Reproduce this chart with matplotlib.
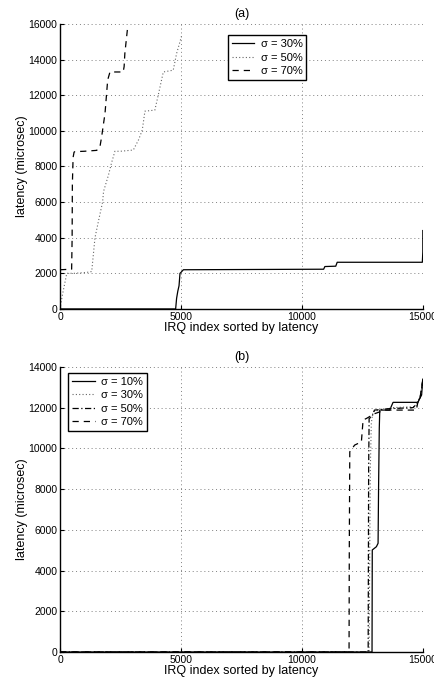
import matplotlib
matplotlib.use('Agg')
from matplotlib import pyplot as plt

plt.rcParams['font.family'] = ['Liberation Sans', 'DejaVu Sans']

# (a) latency vs sorted IRQ index
a30_x = [0, 4780, 4820, 4870, 4920, 4960, 5000, 5100, 10900, 10950, 11400, 11460, 14980, 15000, 15000]
a30_y = [0, 0, 600, 1000, 1300, 2000, 2050, 2200, 2230, 2380, 2400, 2620, 2620, 3200, 4400]

a50_x = [0, 100, 280, 600, 1100, 1310, 1445, 1600, 1760, 1800, 2000, 2130, 2270, 2500,
         3030, 3250, 3400, 3510, 3920, 4060, 4270, 4680, 4820, 4960, 5020]
a50_y = [0, 800, 2000, 2000, 2050, 2100, 4000, 5000, 6000, 6600, 7500, 8200, 8850, 8850,
         8920, 9500, 10040, 11100, 11160, 12000, 13300, 13400, 14340, 15000, 15300]

a70_x = [0, 480, 500, 510, 540, 580, 620, 1000, 1515, 1650, 1720, 1860, 1970, 2065,
         2610, 2650, 2680, 2790, 2820]
a70_y = [2200, 2230, 4000, 7000, 8500, 8800, 8830, 8850, 8900, 9100, 9660, 10980, 12850, 13300,
         13300, 13600, 14340, 15740, 15800]

# (b)
b10_x = [0, 12900, 12910, 13080, 13150, 13170, 13200, 13220, 13630, 13770, 14800, 14870,
         14950, 15000]
b10_y = [0, 0, 5010, 5170, 5340, 8000, 11000, 11880, 11880, 12260, 12260, 12460, 12620, 13400]

b30_x = [0, 12780, 12800, 12830, 12870, 12940, 13100, 13400, 13700, 14700, 14800, 14900, 15000]
b30_y = [0, 0, 4000, 9000, 11230, 11800, 11850, 11900, 12000, 12050, 12300, 12600, 13300]

b50_x = [0, 12740, 12760, 12780, 12900, 13000, 13200, 13600, 14600, 14750, 14900, 15000]
b50_y = [0, 0, 9000, 11470, 11560, 11880, 11900, 11950, 12000, 12200, 12500, 13350]

b70_x = [0, 11950, 11960, 11980, 12180, 12460, 12530, 12670, 13000, 13430, 13630, 14730,
         14800, 14900, 15000]
b70_y = [0, 0, 5000, 9830, 10160, 10320, 11390, 11470, 11700, 11880, 11880, 11880,
         12290, 12600, 13400]

fig = plt.figure(figsize=(4.35, 6.82), dpi=100)
ax1 = fig.add_axes([0.138, 0.547, 0.834, 0.418])
ax2 = fig.add_axes([0.138, 0.044, 0.834, 0.418])

dash = (0, (5, 4))
ax1.plot(a30_x, a30_y, color='black', lw=0.9, ls='-', label='σ = 30%')
ax1.plot(a50_x, a50_y, color='0.4', lw=0.8, ls=(0, (1, 2)), label='σ = 50%')
ax1.plot(a70_x, a70_y, color='black', lw=0.9, ls=dash, label='σ = 70%')

ax2.plot(b10_x, b10_y, color='black', lw=0.9, ls='-', label='σ = 10%')
ax2.plot(b30_x, b30_y, color='0.4', lw=0.8, ls=(0, (1, 2)), label='σ = 30%')
ax2.plot(b50_x, b50_y, color='black', lw=0.9, ls=(0, (5, 2, 1, 2)), label='σ = 50%')
ax2.plot(b70_x, b70_y, color='black', lw=0.9, ls=dash, label='σ = 70%')

for ax, ymax, title in [(ax1, 16000, '(a)'), (ax2, 14000, '(b)')]:
    ax.set_xlim(0, 15000)
    ax.set_ylim(0, ymax)
    ax.set_xticks([0, 5000, 10000, 15000])
    ax.set_yticks(range(0, ymax + 1, 2000))
    ax.grid(True, ls=(0, (1, 3)), color='0.5', lw=0.7)
    ax.spines['top'].set_visible(False)
    ax.spines['right'].set_visible(False)
    ax.spines['left'].set_linewidth(1.0)
    ax.spines['bottom'].set_linewidth(1.0)
    ax.tick_params(direction='in', labelsize=7.5, length=3, pad=2)
    ax.set_xlabel('IRQ index sorted by latency', fontsize=9, labelpad=0)
    ax.set_ylabel('latency (microsec)', fontsize=9, labelpad=0)
    ax.set_title(title, fontsize=9, pad=5)

leg_kw = dict(fontsize=8, fancybox=False, edgecolor='black', framealpha=1,
              handlelength=2.0, borderpad=0.35, labelspacing=0.3, handletextpad=0.6)
leg1 = ax1.legend(loc='upper left', bbox_to_anchor=(0.447, 0.979), **leg_kw)
leg1.get_frame().set_linewidth(1.0)
leg2 = ax2.legend(loc='upper left', bbox_to_anchor=(0.008, 0.998), **leg_kw)
leg2.get_frame().set_linewidth(1.0)

plt.savefig('out.png', dpi=100)
